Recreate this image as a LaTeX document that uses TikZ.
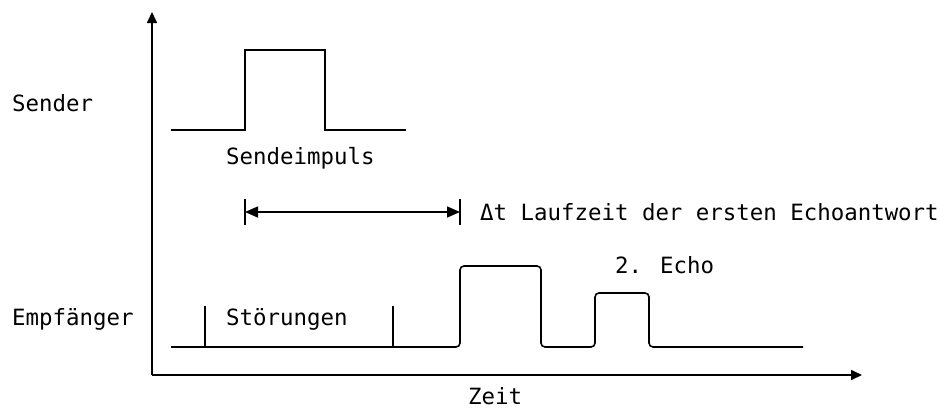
\documentclass[tikz,border=0pt]{standalone}
\usepackage{fontspec}
\setmainfont{DejaVu Sans Mono}
\usetikzlibrary{arrows.meta}
\begin{document}
\begin{tikzpicture}[x=1pt,y=-1pt,
  sig/.style={line width=1.6pt},
  axis/.style={line width=1.6pt,-{Triangle[length=11pt,width=10pt]}},
  lbl/.style={anchor=west,inner sep=0pt,font=\fontsize{22.4}{26}\selectfont}]
\useasboundingbox (0,0) rectangle (941,410);
% axes
\coordinate (O) at (152,375);
\coordinate (Ytop) at (152,12);
\coordinate (Xend) at (862,375);
\draw[axis] (O) -- (Ytop);
\draw[axis] (O) -- (Xend);
% sender pulse
\draw[sig] (171,130) -- (245,130) -- (245,50) -- (325,50) -- (325,130) -- (406,130);
% receiver
\draw[sig,rounded corners=4pt] (171,347) -- (460,347) -- (460,266) -- (541,266) -- (541,347)
  -- (595,347) -- (595,293) -- (649,293) -- (649,347) -- (803,347);
\draw[sig] (205,306) -- (205,347);
\draw[sig] (393,306) -- (393,347);
% delta t marker
\coordinate (dA) at (245,212);
\coordinate (dB) at (460,212);
\draw[sig] (245,199) -- (245,225);
\draw[sig] (460,199) -- (460,225);
\draw[line width=1.6pt,{Triangle[length=13pt,width=11pt]}-{Triangle[length=13pt,width=11pt]}] (dA) -- (dB);
% labels
\node[lbl] (sender) at (12,103) {Sender};
\node[lbl] (empf) at (12,319) {Empfänger};
\node[lbl] (simp) at (226,158) {Sendeimpuls};
\node[lbl] (stoer) at (226,319) {Störungen};
\node[lbl] (dt) at (480,212) {Δt Laufzeit der ersten Echoantwort};
\node[lbl] (echo2) at (615,265) {2. Echo};
\node[lbl] (zeit) at (468,396) {Zeit};
\end{tikzpicture}
\end{document}
